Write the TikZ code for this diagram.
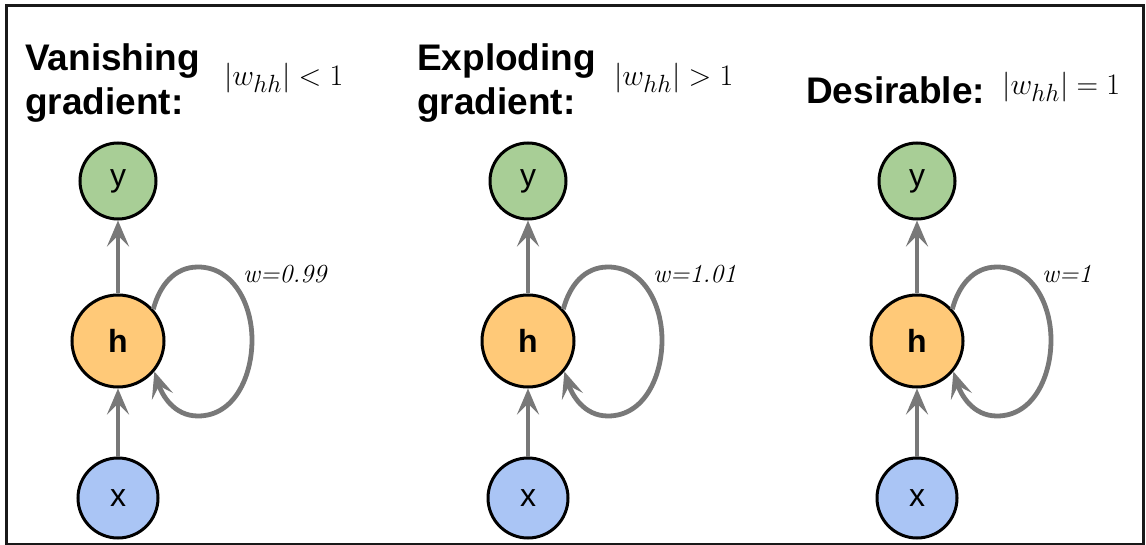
\documentclass[tikz,border=0pt]{standalone}
\usepackage{graphicx}
\usepackage{fontspec}
\setmainfont{Liberation Sans}
\newfontfamily\lblfont{Latin Modern Roman}
\usetikzlibrary{arrows.meta}
\definecolor{ygreen}{RGB}{168,206,150}
\definecolor{horange}{RGB}{255,201,120}
\definecolor{xblue}{RGB}{170,197,245}
\definecolor{edgegray}{RGB}{120,120,120}
\definecolor{framecol}{RGB}{25,25,25}
\newcommand{\bigmath}[1]{\scalebox{1.2}{\fontsize{24.88}{26}\selectfont$\left|w_{hh}\right|#1$}}
\tikzset{
  unit/.style={circle,draw=black,line width=3pt,inner sep=0pt,font=\fontsize{32}{32}\selectfont},
  ynode/.style={unit,fill=ygreen,minimum size=76pt},
  hnode/.style={unit,fill=horange,minimum size=92pt,font=\fontsize{32}{32}\selectfont\bfseries},
  xnode/.style={unit,fill=xblue,minimum size=80pt},
  conn/.style={draw=edgegray,line width=4.8pt,-{Stealth[length=26pt,width=22pt,inset=11pt]}},
  ttl/.style={font=\fontsize{37}{44}\selectfont\bfseries,align=left,anchor=west,inner sep=0pt},
  mth/.style={anchor=west,inner sep=0pt},
  wlbl/.style={font=\fontsize{26}{26}\selectfont\lblfont\itshape,anchor=west,inner sep=0pt}
}
\begin{document}
\begin{tikzpicture}[x=1pt,y=-1pt]
\useasboundingbox (0,0) rectangle (1146,545);
\draw[line width=3pt,color=framecol] (6,6) rectangle (1143,544);
% panel 1
\node[ttl] (t1) at (25,83) {Vanishing\\gradient:};
\node[mth] (m1) at (224,78) {\bigmath{<1}};
\node[ynode] (y1) at (118,181) {y};
\node[hnode] (h1) at (118,341) {h};
\node[xnode] (x1) at (118,498) {x};
\draw[conn] (h1) -- (y1);
\draw[conn] (x1) -- (h1);
\draw[conn] (h1.42) to[out=75,in=180] (198,267) to[out=0,in=90] (252,340) to[out=-90,in=0] (198,416) to[out=180,in=-72] (h1.-40);
\node[wlbl] (w1) at (243,274) {w=0.99};
% panel 2
\node[ttl] (t2) at (417,83) {Exploding\\gradient:};
\node[mth] (m2) at (614,78) {\bigmath{>1}};
\node[ynode] (y2) at (528,181) {y};
\node[hnode] (h2) at (528,341) {h};
\node[xnode] (x2) at (528,498) {x};
\draw[conn] (h2) -- (y2);
\draw[conn] (x2) -- (h2);
\draw[conn] (h2.42) to[out=75,in=180] (608,267) to[out=0,in=90] (662,340) to[out=-90,in=0] (608,416) to[out=180,in=-72] (h2.-40);
\node[wlbl] (w2) at (653,274) {w=1.01};
% panel 3
\node[ttl] (t3) at (806,90) {Desirable:};
\node[mth] (m3) at (1002,87) {\bigmath{=1}};
\node[ynode] (y3) at (917,181) {y};
\node[hnode] (h3) at (917,341) {h};
\node[xnode] (x3) at (917,498) {x};
\draw[conn] (h3) -- (y3);
\draw[conn] (x3) -- (h3);
\draw[conn] (h3.42) to[out=75,in=180] (997,267) to[out=0,in=90] (1051,340) to[out=-90,in=0] (997,416) to[out=180,in=-72] (h3.-40);
\node[wlbl] (w3) at (1042,274) {w=1};
\end{tikzpicture}
\end{document}
